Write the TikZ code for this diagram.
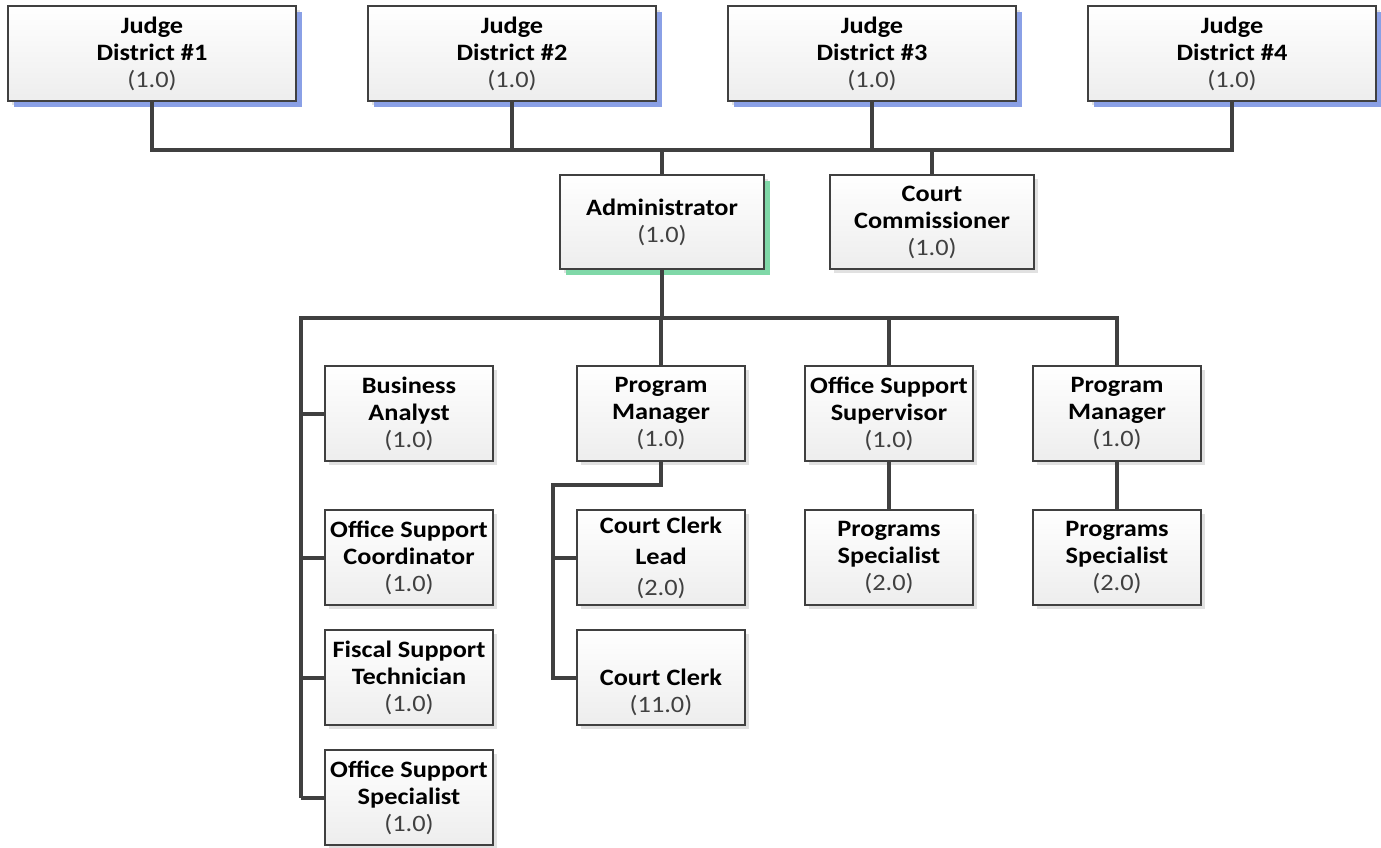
\documentclass[tikz,border=0pt]{standalone}
\usepackage{fontspec}
\setmainfont{Carlito}[FakeStretch=1.12]
\usetikzlibrary{shadows}

\definecolor{linegray}{HTML}{404040}
\definecolor{judgeblue}{HTML}{8AA0E6}
\definecolor{admingreen}{HTML}{80D8A8}
\definecolor{boxshade}{HTML}{D9D9D9}

\newcommand{\fte}[1]{{\mdseries\color{linegray}(#1)}}

\tikzset{
  post/.style={draw=linegray, line width=2.5pt, top color=white, bottom color=black!7,
    align=center, inner sep=0pt, minimum width=168pt, minimum height=95pt,
    font=\fontsize{23.5}{27}\selectfont\bfseries,
    drop shadow={shadow xshift=4pt, shadow yshift=-4pt, fill=boxshade, opacity=0.8}},
  judge/.style={post, minimum width=288pt,
    drop shadow={shadow xshift=6pt, shadow yshift=-6pt, fill=judgeblue, opacity=1}},
  head/.style={post, minimum width=204pt, minimum height=94pt},
  link/.style={draw=linegray, line width=4pt}
}

\begin{document}
\begin{tikzpicture}[x=1pt, y=-1pt]
  \useasboundingbox (0,0) rectangle (1381,848);

  % judges
  \node[judge] (j1) at (152,53.5) {Judge\\District \#1\\\fte{1.0}};
  \node[judge] (j2) at (512,53.5) {Judge\\District \#2\\\fte{1.0}};
  \node[judge] (j3) at (872,53.5) {Judge\\District \#3\\\fte{1.0}};
  \node[judge] (j4) at (1232,53.5) {Judge\\District \#4\\\fte{1.0}};

  % administration
  \node[head, drop shadow={shadow xshift=6pt, shadow yshift=-6pt, fill=admingreen, opacity=1}]
    (admin) at (662,222) {Administrator\\\fte{1.0}};
  \node[head] (comm) at (932,222) {Court\\Commissioner\\\fte{1.0}};

  % staff
  \node[post] (ba)  at (409,413.5) {Business\\Analyst\\\fte{1.0}};
  \node[post] (osc) at (409,557.5) {Office Support\\Coordinator\\\fte{1.0}};
  \node[post] (fst) at (409,677.5) {Fiscal Support\\Technician\\\fte{1.0}};
  \node[post] (oss) at (409,797.5) {Office Support\\Specialist\\\fte{1.0}};

  \node[post] (pm)  at (661,413.5) {Program\\Manager\\\fte{1.0}};
  \node[post] (ccl) at (661,557.5) {Court Clerk\\[4pt]Lead\\[4pt]\fte{2.0}};
  \node[post] (cc)  at (661,677.5) {\strut\\Court Clerk\\\fte{11.0}};

  \node[post] (osv) at (889,413.5) {Office Support\\Supervisor\\\fte{1.0}};
  \node[post] (ps1) at (889,557.5) {Programs\\Specialist\\\fte{2.0}};

  \node[post] (pm2) at (1117,413.5) {Program\\Manager\\\fte{1.0}};
  \node[post] (ps2) at (1117,557.5) {Programs\\Specialist\\\fte{2.0}};

  % buses
  \coordinate (jbus) at (0,150);
  \coordinate (sbus) at (301,318);
  \coordinate (cbus) at (553,485);

  % judges to administration
  \draw[link] (j1.south) -- (j1.south |- jbus) -- (j4.south |- jbus) -- (j4.south);
  \draw[link] (j2.south) -- (j2.south |- jbus);
  \draw[link] (j3.south) -- (j3.south |- jbus);
  \draw[link] (admin.north) -- (admin.north |- jbus);
  \draw[link] (comm.north) -- (comm.north |- jbus);

  % administrator to staff
  \draw[link] (admin.south) -- (admin.south |- sbus);
  \draw[link] (sbus |- oss.west) -- (sbus) -- (pm2.north |- sbus) -- (pm2.north);
  \draw[link] (pm.north) -- (pm.north |- sbus);
  \draw[link] (osv.north) -- (osv.north |- sbus);
  \foreach \n in {ba,osc,fst,oss}
    \draw[link] (sbus |- \n.west) -- (\n.west);

  % program manager to clerks
  \draw[link] (pm.south) -- (pm.south |- cbus) -- (cbus) -- (cbus |- cc.west) -- (cc.west);
  \draw[link] (cbus |- ccl.west) -- (ccl.west);

  % supervisors to specialists
  \draw[link] (osv.south) -- (ps1.north);
  \draw[link] (pm2.south) -- (ps2.north);
\end{tikzpicture}
\end{document}
